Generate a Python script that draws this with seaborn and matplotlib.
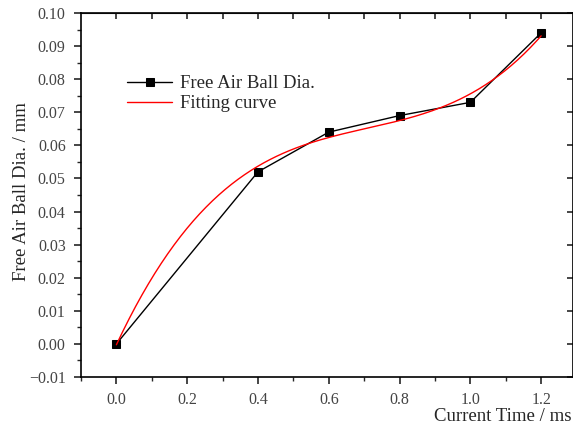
import numpy as np
import pandas as pd
import matplotlib
matplotlib.use("Agg")
import matplotlib.pyplot as plt
import seaborn as sns
from matplotlib.ticker import MultipleLocator, FuncFormatter

time_ms = [0.0, 0.4, 0.6, 0.8, 1.0, 1.2]
ball_dia = [0.0, 0.052, 0.064, 0.069, 0.073, 0.094]
x_ticks = [0.0, 0.2, 0.4, 0.6, 0.8, 1.0, 1.2]
y_ticks = [-0.01, 0.0, 0.01, 0.02, 0.03, 0.04, 0.05, 0.06, 0.07, 0.08, 0.09, 0.10]

sns.set_style("ticks")
plt.rcParams['font.family'] = ['Liberation Serif', 'DejaVu Serif']

df = pd.DataFrame({"t": time_ms, "d": ball_dia})
# cubic polynomial fit of the measured data
coef = np.polyfit(time_ms, ball_dia, 3)
tf = np.linspace(min(time_ms), max(time_ms), 200)
fit_df = pd.DataFrame({"t": tf, "d": np.polyval(coef, tf)})

fig = plt.figure(figsize=(5.73, 4.26), dpi=100)
ax = fig.add_axes([81/573, 1 - 377/426, (573 - 81)/573, (377 - 13)/426])

sns.lineplot(data=df, x="t", y="d", ax=ax, color="black", lw=1.0,
             marker="s", markersize=6, markeredgecolor="black",
             label="Free Air Ball Dia.")
sns.lineplot(data=fit_df, x="t", y="d", ax=ax, color="red", lw=1.0,
             label="Fitting curve")

ax.set_xlim(-0.1, 1.29)
ax.set_ylim(-0.01, 0.10)
ax.set_xticks(x_ticks)
ax.set_yticks(y_ticks)
ax.xaxis.set_minor_locator(MultipleLocator(0.1))
ax.yaxis.set_minor_locator(MultipleLocator(0.005))
ax.xaxis.set_major_formatter(FuncFormatter(lambda v, p: f"{v:.1f}".replace("-", "\u2212")))
ax.yaxis.set_major_formatter(FuncFormatter(lambda v, p: f"{v:.2f}".replace("-", "\u2212")))

for s in ax.spines.values():
    s.set_linewidth(1.2)
    s.set_color("black")
ax.tick_params(axis="both", which="major", direction="out", length=5, width=1.2,
               labelsize=11.5, labelcolor="#444444", pad=6)
ax.tick_params(axis="both", which="minor", direction="out", length=3, width=1.0)

# top and right: inward ticks
axt = ax.secondary_xaxis("top")
axt.set_xticks([0.0, 0.1, 0.2, 0.3, 0.4, 0.5, 0.6, 0.7, 0.8, 0.9, 1.0, 1.1, 1.2])
axt.tick_params(direction="in", length=4, width=1.2, labeltop=False)
axr = ax.secondary_yaxis("right")
axr.set_yticks(y_ticks)
axr.tick_params(direction="in", length=4, width=1.2, labelright=False)

ax.set_xlabel("Current Time / ms", fontsize=13.5)
ax.xaxis.set_label_coords(0.997, -0.085)
ax.xaxis.label.set_horizontalalignment("right")
ax.set_ylabel("Free Air Ball Dia. / mm", fontsize=13.5)
ax.yaxis.set_label_coords(-0.104, 0.51)

leg = ax.legend(loc="upper left", bbox_to_anchor=(0.06, 0.875), frameon=False,
                fontsize=13.5, handlelength=2.4, handletextpad=0.4, labelspacing=0.15,
                markerscale=0.9)

fig.savefig("out.png", dpi=100)
